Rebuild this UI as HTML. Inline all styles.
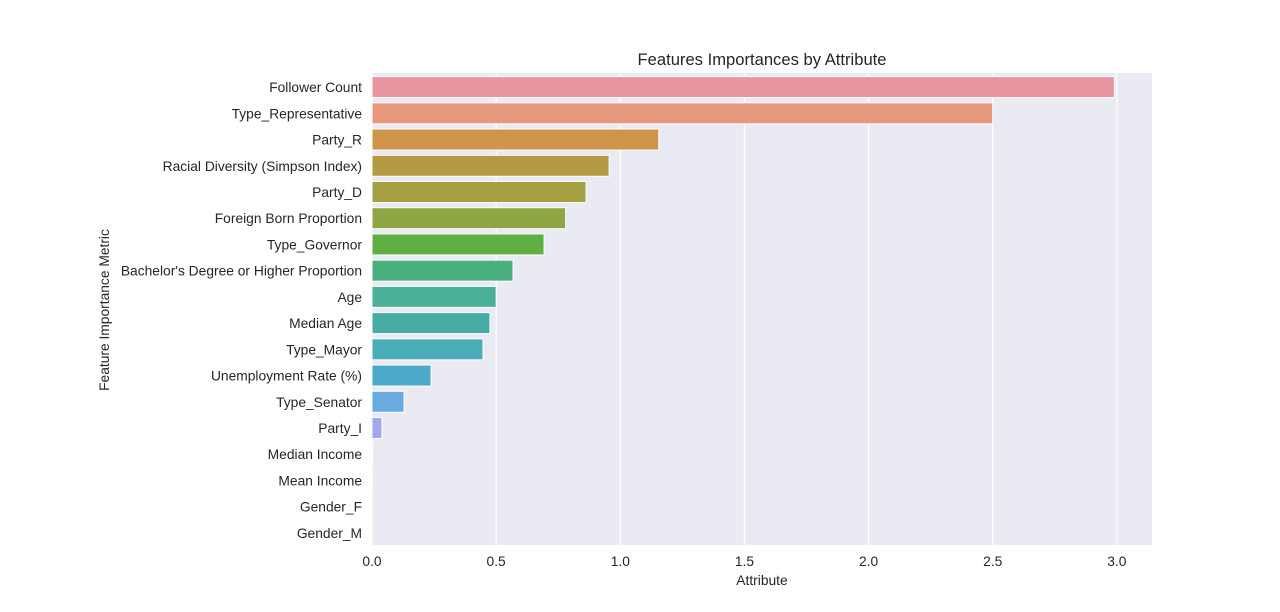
<!DOCTYPE html>
<html><head><meta charset="utf-8">
<style>
html,body{margin:0;padding:0;background:#fff;width:1280px;height:612px;overflow:hidden}
text{font-family:"Liberation Sans","DejaVu Sans",sans-serif;fill:#262626}
</style></head>
<body>
<svg id="chart" width="1280" height="612"></svg>
<script>
const categories=["Follower Count","Type_Representative","Party_R","Racial Diversity (Simpson Index)","Party_D","Foreign Born Proportion","Type_Governor","Bachelor's Degree or Higher Proportion","Age","Median Age","Type_Mayor","Unemployment Rate (%)","Type_Senator","Party_I","Median Income","Mean Income","Gender_F","Gender_M"];
const values=[2.99,2.50,1.155,0.955,0.862,0.78,0.693,0.568,0.5,0.475,0.447,0.238,0.129,0.04,0.003,0.001,0,0];
const colors=["#e8959f","#e8977d","#d0944b","#b59a45","#a5a044","#8fa645","#5faf45","#4aaf7c","#4ab097","#48aca6","#4aacb8","#4caac8","#6aaae0","#a3a7ec","#c8a0ea","#e094e4","#e897cc","#e896b5"];
const xTicks=[0,0.5,1,1.5,2,2.5,3];
const xTickLabels=["0.0","0.5","1.0","1.5","2.0","2.5","3.0"];
const NS="http://www.w3.org/2000/svg";
const svg=document.getElementById("chart");
const L=372,R=1152,T=74,B=546;
const x=v=>L+v*248.3;
const slot=(B-T)/categories.length;
const y=i=>T+i*slot;
function mk(tag,attrs,parent){const e=document.createElementNS(NS,tag);for(const k in attrs)e.setAttribute(k,attrs[k]);(parent||svg).appendChild(e);return e;}
const bg=mk("rect",{x:L,y:T-1,width:R-L,height:B-T,fill:"#eaeaf2"});


xTicks.forEach((t,i)=>{
  const g=mk("line",{x1:x(t),x2:x(t),y1:T-1,y2:B-1,stroke:"#fff","stroke-width":1.2});
  
  
  const tl=mk("text",{x:x(t),y:B+20,"text-anchor":"middle","font-size":13.8});
  tl.textContent=xTickLabels[i];
  
  
});
categories.forEach((c,i)=>{
  const bw=slot*0.8;
  const r=mk("rect",{x:x(0),y:y(i)+slot*0.1,width:Math.max(0,x(values[i])-x(0)),height:bw,fill:colors[i],stroke:"#fff","stroke-width":1});
  
  
  const tl=mk("text",{x:L-10,y:y(i)+slot/2+5,"text-anchor":"end","font-size":13.8});
  tl.textContent=c;
  
  
});
const title=mk("text",{x:(L+R)/2,y:65,"text-anchor":"middle","font-size":16.6});
title.textContent="Features Importances by Attribute";


const xt=mk("text",{x:(L+R)/2,y:585,"text-anchor":"middle","font-size":13.8});
xt.textContent="Attribute";


const yt=mk("text",{x:109,y:(T+B)/2,"text-anchor":"middle","font-size":13.8,transform:"rotate(-90 109 "+((T+B)/2)+")"});
yt.textContent="Feature Importance Metric";


</script>
</body></html>
